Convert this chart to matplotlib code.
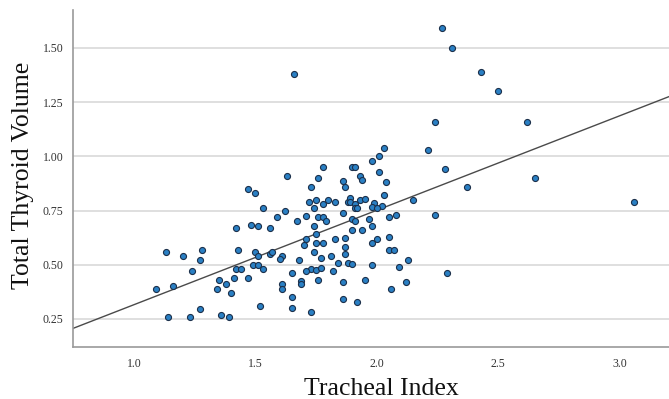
import numpy as np
import matplotlib
matplotlib.use("Agg")
import matplotlib.pyplot as plt

# values (Tracheal Index vs Total Thyroid Volume)
tracheal_index = [
    1.09, 1.13, 1.14, 1.16, 1.20, 1.23, 1.24, 1.27, 1.27, 1.28,
    1.34, 1.35, 1.36, 1.38, 1.39, 1.40, 1.41, 1.42, 1.43, 1.42,
    1.44, 1.47, 1.47, 1.48, 1.49, 1.50, 1.50, 1.51, 1.51, 1.51,
    1.52, 1.63, 1.76, 1.73, 1.72, 1.75, 1.53, 1.62, 1.74, 1.59,
    1.67, 1.71, 1.76, 1.56, 1.75, 1.71, 1.75, 1.56, 1.57, 1.61,
    1.60, 1.70, 1.74, 1.68, 1.53, 1.73, 1.75, 1.71, 1.65, 1.76,
    1.61, 1.69, 1.69, 1.61, 1.65, 1.65, 1.73, 2.03, 2.21, 2.01,
    1.98, 1.78, 1.90, 1.91, 2.01, 1.93, 1.94, 1.86, 1.87, 2.04,
    2.03, 1.80, 1.83, 1.88, 1.89, 1.89, 1.93, 1.95, 1.78, 1.91,
    1.99, 2.02, 2.15, 1.91, 1.92, 1.98, 2.00, 1.86, 2.05, 2.08,
    1.78, 1.90, 1.79, 1.91, 1.97, 1.74, 1.98, 1.90, 1.94, 1.83,
    1.87, 2.00, 2.05, 1.78, 1.87, 1.98, 2.05, 2.07, 1.77, 1.81,
    1.87, 1.84, 1.88, 1.90, 2.13, 1.98, 1.77, 2.09, 1.82, 1.86,
    1.95, 2.12, 2.06, 1.86, 1.92, 1.66, 2.27, 2.31, 2.43, 2.50,
    2.24, 2.62, 2.28, 2.37, 2.65, 2.24, 2.29, 3.06,
]
thyroid_volume = [
    0.39, 0.56, 0.26, 0.40, 0.54, 0.26, 0.47, 0.52, 0.295, 0.57,
    0.39, 0.43, 0.27, 0.41, 0.26, 0.37, 0.44, 0.67, 0.57, 0.48,
    0.48, 0.85, 0.44, 0.685, 0.50, 0.56, 0.83, 0.54, 0.50, 0.68,
    0.31, 0.91, 0.90, 0.86, 0.79, 0.80, 0.76, 0.75, 0.76, 0.72,
    0.70, 0.725, 0.72, 0.67, 0.64, 0.62, 0.60, 0.55, 0.56, 0.54,
    0.525, 0.59, 0.56, 0.52, 0.48, 0.48, 0.475, 0.47, 0.46, 0.43,
    0.41, 0.425, 0.41, 0.39, 0.35, 0.30, 0.28, 1.04, 1.03, 1.00,
    0.98, 0.95, 0.95, 0.95, 0.93, 0.91, 0.89, 0.885, 0.86, 0.88,
    0.82, 0.80, 0.79, 0.79, 0.81, 0.79, 0.80, 0.805, 0.78, 0.78,
    0.785, 0.77, 0.80, 0.76, 0.76, 0.765, 0.76, 0.74, 0.72, 0.73,
    0.72, 0.71, 0.70, 0.70, 0.71, 0.68, 0.68, 0.66, 0.66, 0.62,
    0.625, 0.62, 0.63, 0.60, 0.58, 0.60, 0.57, 0.57, 0.53, 0.54,
    0.55, 0.51, 0.51, 0.505, 0.52, 0.50, 0.485, 0.49, 0.47, 0.42,
    0.43, 0.42, 0.39, 0.34, 0.33, 1.38, 1.59, 1.50, 1.39, 1.30,
    1.16, 1.16, 0.94, 0.86, 0.90, 0.73, 0.46, 0.79,
]

y_ticks = [0.25, 0.50, 0.75, 1.00, 1.25, 1.50]
x_ticks = [1.0, 1.5, 2.0, 2.5, 3.0]

plt.rcParams['font.family'] = ['Liberation Serif', 'DejaVu Serif']

fig = plt.figure(figsize=(6.69, 3.99), dpi=100)
ax = fig.add_axes([0.1087, 0.131, 0.8913, 0.844])

x = np.array(tracheal_index)
y = np.array(thyroid_volume)

ax.set_xlim(0.7475, 3.204)
ax.set_ylim(0.122, 1.675)

# horizontal grid only
for t in y_ticks:
    ax.axhline(t, color='#d6d6d6', lw=1.1, zorder=0)

# linear fit line across the whole axis
slope, intercept = np.polyfit(x, y, 1)
xl = np.array(ax.get_xlim())
ax.plot(xl, intercept + slope * xl, color='#4a4a4a', lw=1.0, zorder=2)

ax.scatter(x, y, s=19, facecolor='#2a80c4', edgecolor='#1b2f4a',
           linewidths=0.8, zorder=3)

ax.set_xticks(x_ticks)
ax.set_xticklabels([f'{v:.1f}' for v in x_ticks])
ax.set_yticks(y_ticks)
ax.set_yticklabels([f'{v:.2f}' for v in y_ticks])
ax.tick_params(axis='x', length=0, pad=8.3, labelsize=8.5, labelcolor='#333333')
ax.tick_params(axis='y', length=0, pad=6.8, labelsize=8.5, labelcolor='#333333')

for side in ['top', 'right']:
    ax.spines[side].set_visible(False)
for side in ['left', 'bottom']:
    ax.spines[side].set_color('#9a9a9a')
    ax.spines[side].set_linewidth(1.2)

fig.text(381 / 669, 1 - 395 / 399, 'Tracheal Index', ha='center',
         va='baseline', fontsize=18.5, color='#111111')
fig.text(23 / 669, 1 - 175 / 399, 'Total Thyroid Volume', ha='center',
         va='center', rotation=90, fontsize=18.5, color='#111111')

fig.savefig('out.png', dpi=100)
